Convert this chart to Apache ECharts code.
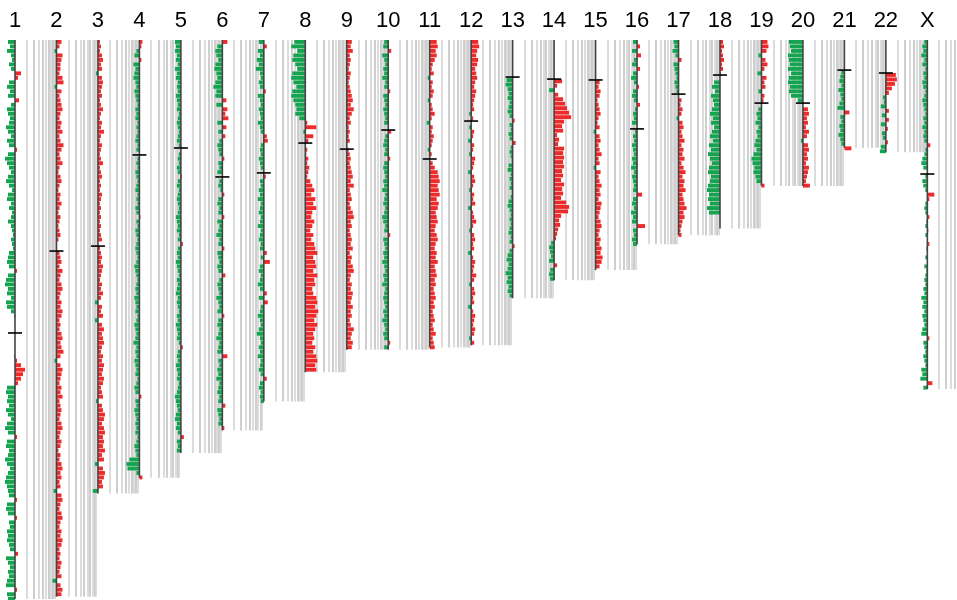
<!DOCTYPE html>
<html>
<head>
<meta charset="utf-8">
<script src="https://cdn.jsdelivr.net/npm/echarts@6/dist/echarts.min.js"></script>
<style>
  html, body { margin: 0; padding: 0; background: #ffffff; }
  #chart { width: 957px; height: 600px; }
</style>
</head>
<body>
<div id="chart"></div>
<script>
// Chromosome names, drawn as column headers
const chromosomes = ['1','2','3','4','5','6','7','8','9','10','11','12','13','14','15','16','17','18','19','20','21','22','X'];

// Length of each chromosome (Mb) and centromere position (Mb)
const chromLengthMb = [249, 248, 202, 195, 184, 174, 161, 148, 138, 138, 137, 136, 115, 107, 102.5, 91, 87, 84, 65, 65, 48, 50, 155.5];
const centromereMb = [130.5, 94, 91.8, 51.2, 48.1, 61, 59.2, 45.9, 48.6, 40.1, 53, 36.1, 16.5, 17.4, 17.8, 39.6, 24.1, 15.6, 28.1, 28.1, 13.4, 14.7, 59.7];

// First measured position (Mb) of each profile; acrocentric arms start at the centromere
const profileStartMb = [0, 0, 0, 0, 0, 0, 0, 0, 0, 0, 0, 0, 17, 17.5, 18, 0, 0, 0, 0, 0, 13.4, 14.7, 0];
const binMb = 2;

// Segmented log2 copy-number ratios, one value per 2 Mb bin
const logRatio1 = [-0.7,-0.5,-0.8,-0.4,-0.3,-0.6,-0.4,0.6,0.3,-0.6,-0.8,-0.5,-0.7,0.4,-0.4,-0.8,-0.7,-0.5,
  -0.6,-0.9,-0.7,-0.4,-0.8,-0.6,0.2,-0.7,-1.0,-0.8,-0.6,-0.4,-0.7,-0.9,-0.6,-0.3,-0.7,-0.8,-0.4,-0.6,-0.3,-0.4,
  -0.7,-0.4,-0.3,-0.2,-0.4,-0.3,-0.2,-0.6,-0.7,-0.8,-0.6,0.2,-0.7,-0.9,-1.0,-0.7,-0.8,-0.4,-0.9,-0.8,-0.4,-0.1,
  0,0,0,0,0,0,0,0,-0.1,0.2,0.6,1.0,0.8,0.6,0.3,-0.8,-0.9,-0.7,-0.8,-0.6,-0.9,-0.7,-0.4,-0.8,-1.0,-0.7,0.2,-0.8,
  -0.9,-0.6,-0.7,-1.0,-0.8,-0.5,-0.7,-0.9,-1.0,-0.8,-0.7,-0.6,0.2,-0.8,-0.9,-0.7,0.2,-0.6,-0.5,-0.8,-0.7,-0.8,
  -0.6,-0.5,0.3,-0.9,-0.7,-0.5,-0.7,-0.6,-0.8,-0.9,0.2,-0.8,-0.7];
const logRatio2 = [0.5,0.3,-0.2,0.6,0.5,0.4,0.4,0.3,0.6,0.7,-0.2,0.5,0.3,0.4,0.5,0.6,0.4,0.3,0.5,0.4,0.6,0.3,
  0.4,0.7,0.5,0.3,0.4,0.6,0.3,0.2,0.4,0.5,0.3,0.2,0.4,0.3,0.5,0.3,0.2,0.4,0.3,0.2,0.3,0.4,0.2,0,0,0.3,0.4,0.5,
  0.3,0.6,0.4,0.3,0.5,0.6,0.4,0.3,0.5,0.4,0.6,0.5,0.3,0.4,0.3,0.5,0.6,0.4,0.5,0.7,0.4,-0.2,0.4,0.6,0.5,0.4,0.3,
  0.5,0.4,0.6,0.3,0.4,0.5,0.4,0.3,0.5,0.6,0.4,0.3,0.5,0.4,0.2,0.4,0.3,0.5,0.6,0.4,0.5,0.3,0.4,-0.3,0.5,0.6,0.4,
  0.3,0.5,0.6,0.4,0.3,0.5,0.4,0.6,0.5,0.3,0.4,0.3,0.5,0.4,0.3,0.5,-0.4,0.4,0.6,0.5];
const logRatio3 = [0.2,0.3,0.2,0.4,0.5,0.3,0.4,-0.2,0.4,0.5,0.4,0.3,0.4,0.2,0.3,0.5,0.3,0.2,0.4,0.3,0.6,0.3,
  0.2,0.4,0.3,0.2,0.3,0.5,0.2,0.3,0.4,0.2,0.3,0.2,0.4,0.3,0.2,0.3,0.2,0.3,0.2,0.3,0.2,0.3,0.4,0,0.2,0.3,0.4,0.3,
  0.5,0.4,0.3,0.2,0.4,0.3,0.5,0.3,-0.3,0.4,0.3,0.5,-0.3,0.4,0.6,0.4,0.5,0.6,0.4,0.3,0.5,0.4,0.6,0.5,0.4,0.6,
  0.5,0.3,0.4,0.5,-0.2,0.4,0.5,0.7,0.6,0.4,0.6,0.7,0.5,0.6,0.5,0.7,0.4,0.6,-0.3,0.5,0.7,0.6,0.4,0.5,-0.5];
const logRatio4 = [0.3,0.2,-0.3,-0.5,0.2,-0.6,-0.4,-0.5,-0.6,-0.4,-0.3,-0.5,-0.4,-0.3,-0.2,-0.4,-0.3,-0.4,-0.2,
  -0.3,-0.2,-0.3,-0.4,-0.2,-0.3,0,-0.2,-0.3,-0.2,-0.4,-0.3,-0.2,-0.3,-0.4,-0.2,-0.3,-0.2,-0.4,-0.3,0.1,-0.3,-0.2,
  -0.4,-0.3,-0.2,-0.3,-0.4,-0.3,-0.2,-0.3,-0.5,-0.4,-0.3,-0.2,-0.3,-0.4,-0.3,-0.5,-0.4,-0.3,-0.4,-0.2,-0.3,-0.5,
  -0.4,-0.3,-0.4,-0.6,-0.3,-0.4,-0.3,-0.5,-0.4,-0.3,-0.4,-0.2,-0.3,-0.5,-0.4,0.2,-0.4,-0.3,-0.5,-0.4,-0.3,-0.4,
  -0.3,-0.4,-0.2,-0.3,-0.5,-0.4,-0.3,-1.0,-1.3,-1.2,-0.3,0.3];
const logRatio5 = [-0.6,-0.5,-0.6,-0.4,-0.5,-0.3,-0.6,-0.4,-0.5,-0.3,-0.4,-0.3,-0.5,-0.4,-0.3,-0.4,-0.2,-0.3,
  -0.4,-0.3,-0.2,-0.3,-0.4,-0.2,0,-0.2,-0.3,-0.2,-0.4,-0.3,0.1,-0.3,-0.4,-0.2,-0.3,-0.4,-0.3,-0.2,-0.3,-0.5,-0.4,
  -0.3,-0.4,-0.2,-0.3,0.2,-0.3,-0.4,-0.3,-0.5,-0.4,-0.3,-0.2,-0.4,-0.3,-0.4,-0.5,-0.3,-0.4,-0.3,-0.2,-0.4,-0.3,
  -0.5,-0.4,-0.3,-0.4,-0.2,0.2,-0.3,-0.4,-0.3,-0.5,-0.4,-0.3,-0.4,-0.2,-0.3,-0.4,-0.6,-0.5,-0.4,-0.3,-0.5,-0.6,
  -0.4,-0.5,-0.3,0.3,-0.4,-0.3,-0.4];
const logRatio6 = [0.5,-0.5,-0.7,-0.6,-0.4,-0.7,-0.8,-0.6,-0.5,-0.7,-0.9,-0.6,-0.7,0.4,-0.6,0.5,0.3,0.6,-0.5,
  0.4,-0.4,0.3,-0.3,-0.5,-0.4,-0.3,0.2,-0.4,-0.3,-0.5,0,-0.3,-0.4,-0.2,0.2,-0.4,-0.5,-0.3,-0.4,0.2,-0.5,-0.3,
  -0.4,-0.6,-0.3,-0.4,0.2,-0.5,-0.4,-0.3,-0.5,-0.4,0.3,-0.3,-0.5,-0.4,-0.3,-0.6,-0.4,-0.3,-0.5,0.2,-0.4,-0.5,
  -0.3,-0.4,-0.6,-0.3,-0.4,-0.5,0.5,-0.4,-0.3,-0.5,-0.4,-0.6,-0.3,-0.4,-0.5,-0.3,-0.4,0.3,-0.5,-0.4,-0.3,-0.4,0.2];
const logRatio7 = [-0.5,0.3,-0.6,-0.4,-0.7,-0.5,-0.8,-0.4,-0.3,-0.5,-0.4,0.2,-0.6,-0.4,-0.3,-0.5,-0.4,-0.3,-0.6,
  -0.4,-0.3,0.3,0.4,-0.3,-0.4,-0.3,-0.5,-0.4,-0.3,0,0.2,-0.4,-0.3,-0.5,-0.4,-0.6,-0.3,-0.4,-0.5,-0.3,-0.4,-0.6,
  -0.3,-0.4,-0.5,-0.3,-0.4,0.3,-0.3,0.6,-0.4,-0.5,-0.3,-0.4,-0.6,-0.4,0.3,-0.5,0.4,-0.3,-0.4,-0.6,-0.4,-0.3,-0.5,
  -0.7,-0.4,-0.3,-0.5,-0.4,-0.6,-0.3,-0.4,-0.5,-0.3,0.3,-0.4,-0.5,-0.3,-0.4,-0.3];
const logRatio8 = [-1.1,-1.4,-0.8,-1.2,-1.3,-1.0,-0.8,-1.3,-1.4,-1.2,-0.9,-1.3,-1.4,-1.2,-1.0,-0.9,-1.0,-0.6,
  0.2,1.1,-0.2,0.8,0.3,0,0.2,0.1,0.3,0.2,0.4,0.3,0.2,0.5,0.7,0.9,0.6,1.0,0.8,1.1,0.7,0.6,0.9,0.7,0.5,0.8,0.6,
  0.9,1.0,1.2,0.8,1.0,1.1,0.8,1.2,0.9,1.0,0.7,0.8,1.1,1.2,1.0,1.3,1.1,0.9,1.2,1.0,0.8,0.9,0.7,1.0,0.8,1.1,1.2,
  1.0,1.1];
const logRatio9 = [0.5,0.4,0.6,0.3,0.4,0.3,0.2,0.4,0.3,0.2,0.3,0.4,0.5,0.6,0.4,0.7,0.5,0.3,0.4,0.2,0.3,0.2,0.3,
  0,0.2,0.3,0.4,0.3,0.4,0.5,0.6,0.4,0.7,0.3,0.4,0.5,0.3,0.4,0.6,0.7,0.4,0.5,0.3,0.4,0.5,0.4,0.6,0.3,0.5,0.4,
  0.6,0.7,0.4,0.3,0.5,0.4,0.6,0.5,0.4,0.6,0.4,0.5,0.3,0.4,0.7,0.5,0.4,0.6,0.5];
const logRatio10 = [-0.4,-0.5,0.3,-0.6,-0.4,-0.3,-0.5,-0.4,-0.6,-0.3,-0.4,0.2,-0.5,-0.4,-0.3,-0.5,-0.4,-0.3,
  -0.4,0,0.3,-0.3,-0.4,-0.5,-0.3,-0.4,0.2,-0.4,-0.5,-0.4,-0.3,-0.5,-0.4,-0.6,-0.3,-0.4,-0.5,-0.3,-0.4,-0.6,-0.5,
  -0.3,-0.4,0.2,-0.5,-0.4,-0.3,-0.5,-0.4,-0.6,-0.4,-0.3,-0.5,-0.4,-0.6,-0.3,-0.4,-0.5,-0.4,-0.3,-0.5,-0.4,-0.6,
  -0.4,-0.3,-0.5,-0.4,0.2,-0.4];
const logRatio11 = [0.7,0.8,0.6,0.7,0.5,0.3,0.2,0.4,-0.2,0.3,0.2,0.4,0.3,-0.2,0.2,0.3,0.5,0.2,-0.3,0.3,0.2,
  0.4,0.3,0.2,-0.2,0.2,0,0.3,0.5,0.8,0.9,1.0,0.8,0.9,1.0,0.7,0.9,0.8,0.6,0.7,0.8,0.6,0.5,0.7,0.8,0.6,0.5,0.7,
  0.6,0.8,0.5,0.6,0.7,0.5,0.6,0.4,0.5,0.6,0.4,0.5,0.3,0.4,0.5,0.3,0.4,0.6,0.3,0.4,0.5];
const logRatio12 = [0.7,0.8,0.6,0.5,0.7,0.6,0.4,0.5,0.6,0.4,0.3,0.5,0.4,0.3,0.2,0.3,-0.2,0.2,0,-0.2,0.3,0.2,
  -0.3,0.3,0.2,-0.2,0.4,0.3,0.2,-0.3,0.3,0.4,0.2,-0.2,0.3,0.2,0.4,-0.3,0.2,0.3,0.5,0.2,-0.2,0.3,0.4,0.2,0.3,-0.3,
  0.2,0.4,0.3,0.2,0.5,0.3,-0.2,0.3,0.4,0.2,0.3,-0.3,0.2,0.4,0.3,0.2,0.4,0.3,-0.2,0.3];
const logRatio13 = [-0.6,-0.7,-0.5,-0.4,-0.5,-0.3,-0.4,-0.5,-0.3,0.2,-0.3,-0.2,-0.4,-0.3,0.3,-0.2,-0.3,-0.2,
  -0.1,-0.4,-0.5,-0.2,-0.3,-0.2,-0.3,-0.1,-0.2,-0.4,-0.5,-0.3,-0.2,-0.3,-0.2,-0.3,-0.4,-0.2,-0.3,0.2,-0.3,-0.5,
  -0.6,-0.4,-0.5,-0.7,-0.5,-0.6,-0.4,-0.5,-0.3];
const logRatio14 = [0.8,0.3,-0.5,0.4,0.9,1.1,1.3,1.5,1.7,1.0,0.8,0.9,0.3,0.5,0.4,1.0,0.9,1.0,0.9,1.0,0.8,0.9,
  0.7,1.0,0.8,0.9,0.7,1.2,1.5,1.4,0.7,0.5,0.6,0.4,0.3,0.2,-0.3,-0.5,-0.4,-0.3,-0.5,0.3,-0.4,-0.5,-0.4];
const logRatio15 = [0.4,0.3,0.5,0.4,0.2,0.3,0.4,0.5,0.3,0.2,0.4,-0.2,0.4,0.5,0.3,0.4,0.6,0.3,0.4,-0.2,0.5,0.3,
  0.4,0.6,0.4,0.5,0.3,0.6,0.5,0.4,0.3,0.5,0.6,0.4,0.3,0.5,0.4,0.6,0.5,0.7,0.6,0.4];
const logRatio16 = [-0.4,0.3,-0.5,0.4,-0.3,-0.5,0.3,-0.4,-0.6,-0.3,0.2,-0.4,-0.5,-0.3,0.3,-0.2,-0.4,-0.3,-0.5,
  0,-0.2,-0.4,-0.3,-0.5,-0.4,-0.3,-0.5,-0.4,-0.6,-0.3,-0.5,-0.4,-0.3,-0.4,0.5,-0.4,-0.5,-0.3,-0.6,-0.4,-0.5,0.8,
  -0.4,-0.3,-0.5,-0.4];
const logRatio17 = [-0.5,-0.4,-0.6,-0.3,0.3,-0.5,-0.4,-0.3,-0.2,-0.4,-0.3,-0.2,0,0.3,0.2,0.4,0.3,-0.2,0.4,0.5,
  0.3,0.4,0.6,0.3,0.5,0.4,0.6,0.3,0.5,0.7,0.4,0.6,0.5,0.7,0.4,0.5,0.6,0.8,0.5,0.6,0.4,0.3,0.2,0.3];
const logRatio18 = [0.3,0.4,0.2,0.3,0.4,0.2,0.3,0.1,0,-0.6,-0.8,-0.5,-0.9,-0.7,-0.6,-0.8,-1.0,-0.7,-0.9,-0.6,
  -0.8,-1.0,-0.7,-1.1,-0.9,-1.2,-1.0,-0.8,-1.1,-1.2,-0.9,-1.0,-1.2,-1.3,-1.1,-1.2,-1.0,-1.3,-1.1];
const logRatio19 = [0.6,0.7,0.5,-0.3,0.4,0.6,0.3,-0.4,0.5,0.3,0.4,-0.3,0.3,0.2,0,-0.3,-0.5,-0.4,-0.6,-0.3,-0.5,
  -0.4,-0.6,-0.7,-0.5,-0.8,-1.0,-0.9,-0.7,-0.8,-0.6,-0.5,0.3];
const logRatio20 = [-1.4,-1.3,-1.2,-1.5,-1.4,-1.3,-1.5,-1.2,-1.4,-1.5,-1.3,-1.4,-1.2,-0.5,0,0.5,0.6,0.4,0.5,0.3,
  0.6,0.4,-0.2,0.5,0.6,0.4,0.5,0.3,0.6,0.5,0.4,0.3,0.7];
const logRatio21 = [-0.3,-0.4,-0.5,-0.3,-0.6,-0.4,-0.3,-0.5,-0.7,0.5,-0.4,-0.3,-0.5,-0.4,-0.6,-0.4,-0.3,0.7];
const logRatio22 = [1.0,1.1,0.9,0.6,0.3,-0.3,-0.2,-0.5,0.3,-0.4,0.3,-0.5,0.2,-0.4,-0.3,0.2,-0.5,-0.6];
const logRatioX = [-0.3,-0.5,-0.4,-0.6,-0.3,-0.5,-0.2,-0.4,-0.3,-0.5,-0.4,-0.2,-0.3,-0.5,-0.4,-0.3,-0.2,-0.4,
  -0.3,-0.5,-0.3,-0.4,-0.3,0.3,-0.2,-0.3,-0.5,-0.6,-0.4,0,-0.2,-0.5,-0.4,-0.2,0.7,0.2,-0.2,-0.3,-0.2,0.2,-0.1,
  -0.2,0.1,-0.2,0,0.2,-0.1,0,-0.2,0,-0.3,-0.1,-0.2,-0.3,-0.2,-0.4,-0.3,-0.6,-0.4,-0.5,-0.3,-0.5,-0.4,-0.3,-0.5,
  -0.6,0.2,-0.4,-0.3,-0.2,-0.4,-0.3,-0.2,-0.6,-0.5,-0.7,0.5,-0.4];

const profiles = [logRatio1, logRatio2, logRatio3, logRatio4, logRatio5, logRatio6, logRatio7, logRatio8,
  logRatio9, logRatio10, logRatio11, logRatio12, logRatio13, logRatio14, logRatio15, logRatio16, logRatio17,
  logRatio18, logRatio19, logRatio20, logRatio21, logRatio22, logRatioX];

// Reference copy-number levels drawn as guide lines beside each chromosome
const guideLevels = [2, 3, 4, 5, 6, 7, 8, 9, 10];

const GAIN = '#ee2a2a';
const LOSS = '#14a34f';
const COLUMN_PX = 41.47;       // horizontal spacing between chromosome baselines
const PX_PER_LOG2 = 10;        // bar length per log2 unit
const GUIDE_SPAN = 0.965;      // fraction of a column covered by the guide lines

const segments = [];
profiles.forEach((vals, c) => {
  vals.forEach((v, k) => {
    const s = profileStartMb[c] + k * binMb;
    if (v !== 0) segments.push([c, s, s + binMb, v]);
  });
});
const guides = chromosomes.map((n, c) => [c, chromLengthMb[c]]);
const centromeres = chromosomes.map((n, c) => [c, centromereMb[c]]);

const chart = echarts.init(document.getElementById('chart'), null, { renderer: 'canvas' });
const plotWidth = 957 - 15;

chart.setOption({
  animation: false,
  backgroundColor: '#ffffff',
  grid: { left: 15, top: 40, right: 0, bottom: 0 },
  xAxis: {
    type: 'value', min: 0, max: plotWidth / COLUMN_PX, interval: 1, position: 'top',
    axisLine: { show: false }, axisTick: { show: false }, splitLine: { show: false },
    axisLabel: {
      margin: 8, fontSize: 22, color: '#000', fontFamily: 'Liberation Sans, Arial, sans-serif',
      showMaxLabel: false,
      formatter: v => chromosomes[v] || ''
    }
  },
  yAxis: {
    type: 'value', min: 0, max: 249.45, inverse: true, show: false
  },
  series: [
    {
      type: 'custom', name: 'guides', data: guides, z: 1, silent: true,
      renderItem(params, api) {
        const c = api.value(0);
        const top = api.coord([c, 0]);
        const bottom = api.coord([c, api.value(1)]);
        const slot = api.size([1, 0])[0];
        const children = guideLevels.map((lvl, j) => {
          const x = Math.round(top[0] + Math.log10(lvl) * slot * GUIDE_SPAN);
          return {
            type: 'line',
            shape: { x1: x, y1: top[1], x2: x, y2: bottom[1] },
            style: { stroke: j % 2 ? '#c2c2c2' : '#d4d4d4', lineWidth: 1.6 }
          };
        });
        return { type: 'group', children };
      }
    },
    {
      type: 'custom', name: 'profile', data: segments, z: 2, silent: true,
      renderItem(params, api) {
        const p0 = api.coord([api.value(0), api.value(1)]);
        const p1 = api.coord([api.value(0), api.value(2)]);
        const len = api.value(3) * PX_PER_LOG2;
        return {
          type: 'rect',
          shape: { x: len < 0 ? p0[0] + len : p0[0], y: p0[1], width: Math.abs(len), height: p1[1] - p0[1] - 0.6 },
          style: { fill: len < 0 ? LOSS : GAIN }
        };
      }
    },
    {
      type: 'custom', name: 'baseline', data: guides, z: 3, silent: true,
      renderItem(params, api) {
        const c = api.value(0);
        const top = api.coord([c, 0]);
        const bottom = api.coord([c, api.value(1)]);
        return {
          type: 'line',
          shape: { x1: top[0], y1: top[1], x2: top[0], y2: bottom[1] },
          style: { stroke: '#444444', lineWidth: 1.6 }
        };
      }
    },
    {
      type: 'custom', name: 'centromere', data: centromeres, z: 4, silent: true,
      renderItem(params, api) {
        const p = api.coord([api.value(0), api.value(1)]);
        return {
          type: 'line',
          shape: { x1: p[0] - 7, y1: p[1], x2: p[0] + 7, y2: p[1] },
          style: { stroke: '#000000', lineWidth: 1.6 }
        };
      }
    }
  ]
});
</script>
</body>
</html>
